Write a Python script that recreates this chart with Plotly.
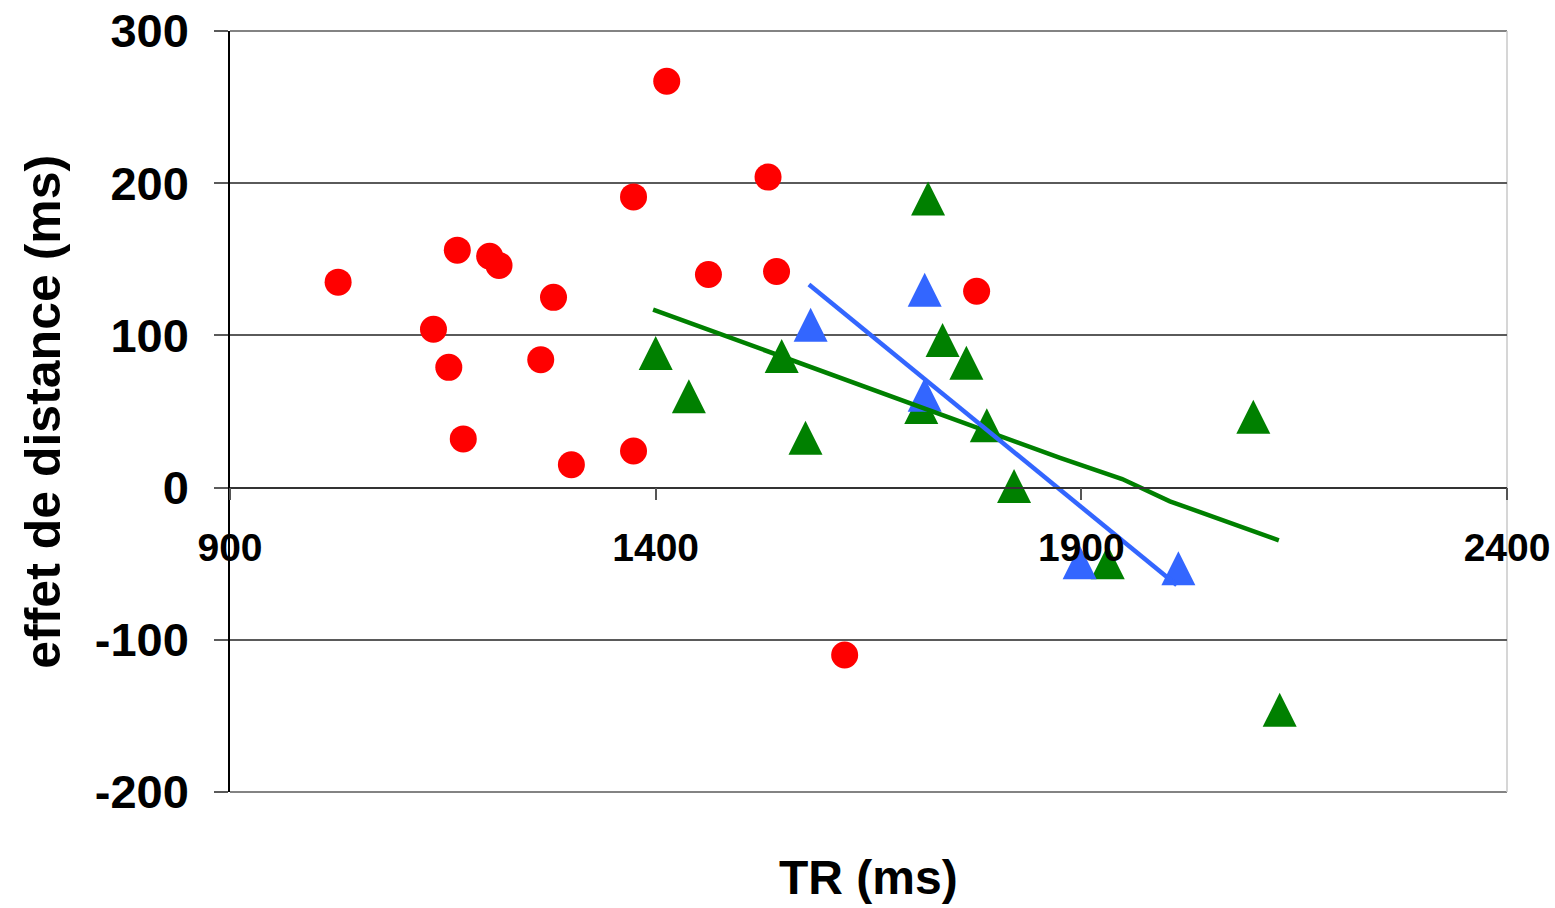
import plotly.graph_objects as go

# ---- data ----
red_x = [1027, 1139, 1157, 1167, 1174, 1205, 1216, 1265, 1280, 1301, 1374, 1374, 1413, 1462, 1532, 1542, 1777, 1622]
red_y = [135, 104, 79, 156, 32, 152, 146, 84, 125, 15, 191, 24, 267, 140, 204, 142, 129, -110]

green_x = [1400, 1439, 1548, 1576, 1712, 1720, 1737, 1765, 1789, 1821, 1931, 2102, 2133]
green_y = [88.5, 60, 86.5, 32.7, 53, 190, 97, 82, 41, 1, -49, 46.6, -146]

blue_x = [1582, 1716, 1716, 1898, 2014]
blue_y = [107, 130, 61, -49, -53]

green_fit_x = [1397, 1875, 1948, 2004, 2132]
green_fit_y = [117, 19.5, 5.6, -9, -34.6]

blue_fit_x = [1580, 2012]
blue_fit_y = [133.5, -64]

x_ticks = [900, 1400, 1900, 2400]
y_ticks = [-200, -100, 0, 100, 200, 300]

x_title = "TR (ms)"
y_title = "effet de distance (ms)"

RED = "#FF0000"
GREEN = "#008000"
BLUE = "#3366FF"
FONT = "Liberation Sans, Arial, sans-serif"
GRID = "#5a5a5a"

TRI = 34

fig = go.Figure()
fig.add_trace(go.Scatter(
    x=red_x, y=red_y, mode="markers",
    marker=dict(symbol="circle", size=27, color=RED, line=dict(width=0)),
    showlegend=False, cliponaxis=False))
fig.add_trace(go.Scatter(
    x=green_x, y=green_y, mode="markers",
    marker=dict(symbol="arrow-down", angle=180, standoff=TRI / 2, size=TRI,
                color=GREEN, line=dict(width=0)),
    showlegend=False, cliponaxis=False))
fig.add_trace(go.Scatter(
    x=blue_x, y=blue_y, mode="markers",
    marker=dict(symbol="arrow-down", angle=180, standoff=TRI / 2, size=TRI,
                color=BLUE, line=dict(width=0)),
    showlegend=False, cliponaxis=False))
fig.add_trace(go.Scatter(
    x=green_fit_x, y=green_fit_y, mode="lines",
    line=dict(color=GREEN, width=4.5), showlegend=False, cliponaxis=False))
fig.add_trace(go.Scatter(
    x=blue_fit_x, y=blue_fit_y, mode="lines",
    line=dict(color=BLUE, width=4.5), showlegend=False, cliponaxis=False))

fig.update_layout(
    width=1555, height=908,
    margin=dict(l=230, r=48, t=31, b=116, autoexpand=False),
    plot_bgcolor="white", paper_bgcolor="white",
    font=dict(family=FONT, color="black"),
    showlegend=False,
)

fig.update_xaxes(
    range=[900, 2400], tickvals=x_ticks, ticktext=[str(v) for v in x_ticks],
    showgrid=False, zeroline=False, automargin=False,
    showline=True, linecolor="#333333", linewidth=1.5,
    ticks="outside", ticklen=12, tickcolor="#555555", tickwidth=1.5,
    tickfont=dict(family=FONT, size=39, weight="bold", color="black"),
    ticklabelstandoff=14,
    anchor="free", position=0.4,
)
fig.update_yaxes(
    range=[-200, 300], tickvals=y_ticks, ticktext=[str(v) for v in y_ticks],
    showgrid=True, gridcolor=GRID, gridwidth=1.5,
    zeroline=False, automargin=False,
    showline=True, linecolor="black", linewidth=1.5,
    ticks="outside", ticklen=14, tickcolor=GRID, tickwidth=1.5,
    tickfont=dict(family=FONT, size=47, weight="bold", color="black"),
    ticklabelstandoff=16,
)

# plot frame: top / bottom gridlines at the range ends and light right border
fig.add_shape(type="line", xref="x domain", yref="y domain", x0=0, x1=1, y0=1, y1=1,
              line=dict(color=GRID, width=1.5), layer="below")
fig.add_shape(type="line", xref="x domain", yref="y domain", x0=0, x1=1, y0=0, y1=0,
              line=dict(color=GRID, width=1.5), layer="below")
fig.add_shape(type="line", xref="x domain", yref="y domain", x0=1, x1=1, y0=0, y1=1,
              line=dict(color="#C8C8C8", width=1.5), layer="below")

fig.add_annotation(text=x_title, xref="paper", yref="paper", x=0.5, y=-0.112,
                   xanchor="center", yanchor="middle", showarrow=False,
                   font=dict(family=FONT, size=48, weight="bold", color="black"))
fig.add_annotation(text=y_title, xref="paper", yref="paper", x=-0.147, y=0.5,
                   xanchor="center", yanchor="middle", showarrow=False, textangle=-90,
                   font=dict(family=FONT, size=50, weight="bold", color="black"))

fig.write_html("out.html")
